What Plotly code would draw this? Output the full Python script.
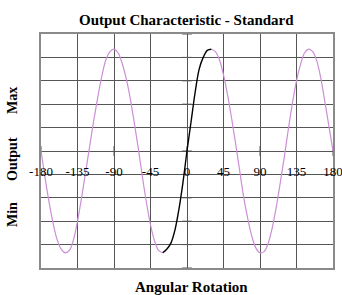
import plotly.graph_objects as go

# Data
angle_left = [-180, -175, -170, -165, -160, -155, -150, -145, -140, -135, -130, -125, -120, -115, -110,
              -105, -100, -95, -90, -85, -80, -75, -70, -65, -60, -55, -50, -45, -40, -35, -30]
out_left = [0.0, -0.23, -0.44, -0.62, -0.76, -0.84, -0.87, -0.85, -0.76, -0.60, -0.40, -0.18, 0.04, 0.26, 0.46,
            0.64, 0.78, 0.85, 0.87, 0.84, 0.75, 0.62, 0.45, 0.24, 0.02, -0.22, -0.44, -0.63, -0.77, -0.85, -0.87]

angle_mid = [-30, -25, -20, -15, -10, -5, 0, 5, 10, 15, 20, 25, 30]
out_mid = [-0.87, -0.84, -0.79, -0.68, -0.50, -0.27, 0.0, 0.25, 0.50, 0.70, 0.80, 0.86, 0.87]

angle_right = [30, 35, 40, 45, 50, 55, 60, 65, 70, 75, 80, 85, 90, 95, 100, 105, 110, 115, 120,
               125, 130, 135, 140, 145, 150, 155, 160, 165, 170, 175, 180]
out_right = [0.87, 0.85, 0.78, 0.65, 0.48, 0.28, 0.06, -0.17, -0.40, -0.58, -0.73, -0.83, -0.87, -0.86, -0.79,
             -0.66, -0.48, -0.27, -0.05, 0.19, 0.41, 0.60, 0.74, 0.84, 0.87, 0.85, 0.77, 0.62, 0.42, 0.21, 0.0]

x_ticks = [-180, -135, -90, -45, 0, 45, 90, 135, 180]
x_tick_labels = ["-180", "-135", "-90", "-45", "0", "45", "90", "135", "180"]
y_ticks = [-1.0, -0.8, -0.6, -0.4, -0.2, 0.0, 0.2, 0.4, 0.6, 0.8, 1.0]

PINK = "#cc8fd6"
GRID = "#555555"
FONT = "Liberation Serif"

fig = go.Figure()

# tick marks crossing the axes through the origin
fig.add_trace(go.Scatter(x=x_ticks, y=[0] * len(x_ticks), mode="markers",
                         marker=dict(symbol="line-ns", size=7, line=dict(width=1, color=GRID)),
                         hoverinfo="skip", showlegend=False))
fig.add_trace(go.Scatter(x=[0] * len(y_ticks), y=y_ticks, mode="markers",
                         marker=dict(symbol="line-ew", size=7, line=dict(width=1, color=GRID)),
                         hoverinfo="skip", showlegend=False))

fig.add_trace(go.Scatter(x=angle_left, y=out_left, mode="lines", line=dict(color=PINK, width=1.2, shape="spline"),
                         showlegend=False))
fig.add_trace(go.Scatter(x=angle_right, y=out_right, mode="lines", line=dict(color=PINK, width=1.2, shape="spline"),
                         showlegend=False))
fig.add_trace(go.Scatter(x=angle_mid, y=out_mid, mode="lines", line=dict(color="black", width=1.4, shape="spline"),
                         showlegend=False))

# invisible trace on secondary x-axis to carry tick labels along y = 0
fig.add_trace(go.Scatter(x=[-180, 180], y=[0, 0], xaxis="x2", mode="none", hoverinfo="skip", showlegend=False))

fig.update_layout(
    width=342, height=295,
    margin=dict(l=41, r=9, t=34, b=27, autoexpand=False),
    paper_bgcolor="white", plot_bgcolor="white",
    font=dict(family=FONT, size=13, color="black"),
    xaxis=dict(range=[-180, 180], tickvals=x_ticks, showticklabels=False, showgrid=True,
               gridcolor=GRID, gridwidth=1, zeroline=False, showline=True, linecolor="#8a8a8a",
               linewidth=2, mirror=True, ticks="", automargin=False),
    xaxis2=dict(range=[-180, 180], overlaying="x", anchor="free", position=0.5, side="bottom",
                tickvals=x_ticks, ticktext=x_tick_labels, showgrid=False, zeroline=False,
                showline=False, ticks="outside", ticklen=8, tickcolor="rgba(0,0,0,0)",
                ticklabeloverflow="allow",
                tickfont=dict(family=FONT, size=13, color="black"), automargin=False),
    yaxis=dict(range=[-1, 1], tickvals=y_ticks, showticklabels=False, showgrid=True,
               gridcolor=GRID, gridwidth=1, zeroline=False, showline=True, linecolor="#8a8a8a",
               linewidth=2, mirror=True, ticks="", automargin=False),
    annotations=[
        dict(text="<b>Output Characteristic - Standard</b>", xref="paper", yref="paper",
             x=(186 - 41) / 292, y=(268 - 20) / 234, xanchor="center", yanchor="middle", showarrow=False,
             font=dict(family=FONT, size=15)),
        dict(text="<b>Angular Rotation</b>", xref="paper", yref="paper",
             x=(191 - 41) / 292, y=(268 - 286.5) / 234, xanchor="center", yanchor="middle", showarrow=False,
             font=dict(family=FONT, size=15)),
        dict(text="<b>Max</b>", xref="paper", yref="paper", x=(12 - 41) / 292, y=(268 - 101) / 234,
             xanchor="center", yanchor="middle", textangle=-90, showarrow=False, font=dict(family=FONT, size=14)),
        dict(text="<b>Output</b>", xref="paper", yref="paper", x=(12 - 41) / 292, y=(268 - 159) / 234,
             xanchor="center", yanchor="middle", textangle=-90, showarrow=False, font=dict(family=FONT, size=14)),
        dict(text="<b>Min</b>", xref="paper", yref="paper", x=(12 - 41) / 292, y=(268 - 215) / 234,
             xanchor="center", yanchor="middle", textangle=-90, showarrow=False, font=dict(family=FONT, size=14)),
    ],
)

fig.write_html("out.html", config={"displayModeBar": False},
               post_script="document.body.style.margin='0';document.body.style.overflow='hidden';")
